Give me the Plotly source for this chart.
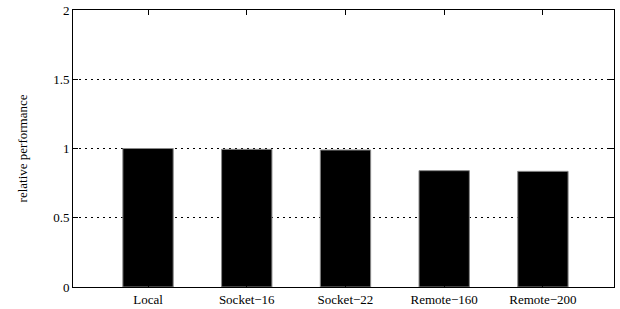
import plotly.graph_objects as go

categories = ["Local", "Socket\u221216", "Socket\u221222", "Remote\u2212160", "Remote\u2212200"]
values = [1.0, 0.994, 0.989, 0.840, 0.835]
y_ticks = [0, 0.5, 1, 1.5, 2]
y_tick_labels = ["0", "0.5", "1", "1.5", "2"]

fig = go.Figure()
fig.add_trace(go.Bar(
    x=list(range(len(categories))),
    y=values,
    width=0.51,
    marker=dict(color="black", line=dict(color="#888888", width=1)),
))

fig.update_layout(
    template="none",
    width=620, height=309,
    margin=dict(l=73, r=6, t=10, b=22, autoexpand=False),
    paper_bgcolor="white", plot_bgcolor="white",
    showlegend=False,
    font=dict(family="Liberation Serif", size=13, color="black"),
    xaxis=dict(
        range=[-0.76, 4.72], automargin=False,
        tickmode="array", tickvals=list(range(len(categories))), ticktext=categories,
        showline=True, linecolor="black", linewidth=1, mirror="ticks",
        ticks="inside", ticklen=5, tickcolor="black",
        showgrid=False, zeroline=False,
    ),
    yaxis=dict(
        range=[0, 2], automargin=False,
        tickmode="array", tickvals=y_ticks, ticktext=y_tick_labels,
        showline=True, linecolor="black", linewidth=1, mirror="ticks",
        ticks="inside", ticklen=5, tickcolor="black",
        showgrid=True, gridcolor="black", gridwidth=1, griddash="2px,4px",
        zeroline=False,
        title=dict(text="relative performance", standoff=22, font=dict(size=13)),
    ),
)

fig.write_html("out.html", config={"displayModeBar": False},
               post_script="document.body.style.margin='0';document.body.style.padding='0';")
